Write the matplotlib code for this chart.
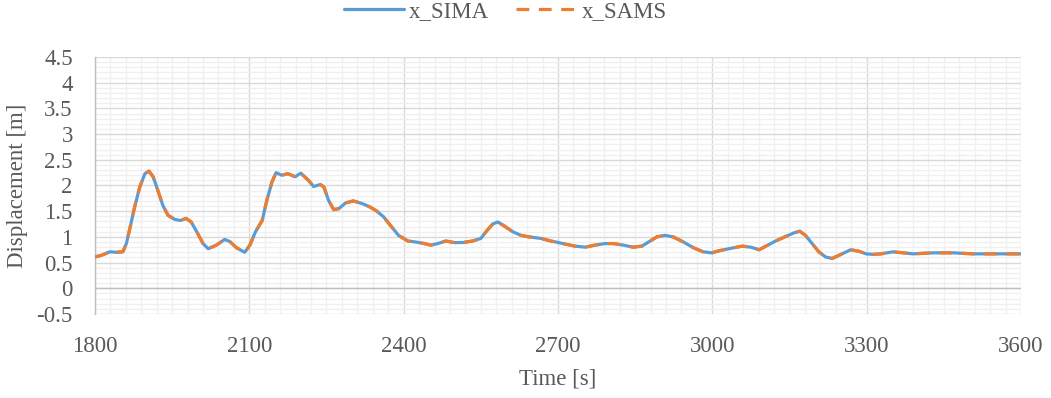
import matplotlib
matplotlib.use("Agg")
import matplotlib.pyplot as plt
from matplotlib.ticker import MultipleLocator

# Time [s] and displacement [m] samples
time_s = [1800, 1812, 1829, 1841, 1854, 1861, 1867, 1877, 1887, 1897, 1905, 1913, 1922,
          1932, 1942, 1955, 1966, 1977, 1987, 2000, 2010, 2020, 2036, 2052, 2062, 2075,
          2091, 2101, 2112, 2125, 2134, 2144, 2152, 2163, 2175, 2189, 2200, 2215, 2225,
          2238, 2245, 2254, 2264, 2274, 2287, 2302, 2319, 2335, 2348, 2361, 2377, 2390,
          2408, 2424, 2440, 2453, 2466, 2482, 2498, 2515, 2534, 2550, 2560, 2573, 2583,
          2596, 2612, 2628, 2644, 2667, 2686, 2701, 2714, 2733, 2753, 2772, 2791, 2808,
          2827, 2846, 2863, 2876, 2892, 2908, 2924, 2944, 2963, 2982, 2999, 3013, 3032,
          3058, 3075, 3091, 3104, 3123, 3143, 3159, 3170, 3181, 3194, 3207, 3220, 3233,
          3250, 3269, 3285, 3299, 3312, 3328, 3351, 3371, 3390, 3429, 3468, 3507, 3552,
          3600]
x_sima = [0.61, 0.64, 0.71, 0.70, 0.71, 0.87, 1.13, 1.58, 1.97, 2.23, 2.28, 2.17, 1.91,
          1.61, 1.42, 1.34, 1.32, 1.36, 1.29, 1.06, 0.87, 0.77, 0.84, 0.95, 0.91, 0.79,
          0.70, 0.84, 1.10, 1.32, 1.71, 2.07, 2.25, 2.20, 2.23, 2.17, 2.24, 2.10, 1.98,
          2.02, 1.97, 1.71, 1.53, 1.55, 1.66, 1.70, 1.65, 1.58, 1.50, 1.39, 1.19, 1.03,
          0.92, 0.90, 0.87, 0.84, 0.87, 0.92, 0.89, 0.89, 0.92, 0.97, 1.10, 1.25, 1.29,
          1.21, 1.10, 1.03, 1.00, 0.97, 0.92, 0.89, 0.86, 0.82, 0.80, 0.84, 0.87, 0.87,
          0.84, 0.80, 0.82, 0.90, 1.00, 1.03, 1.00, 0.90, 0.79, 0.71, 0.69, 0.73, 0.77,
          0.82, 0.80, 0.75, 0.82, 0.92, 1.01, 1.08, 1.11, 1.03, 0.87, 0.71, 0.61, 0.58,
          0.66, 0.75, 0.72, 0.67, 0.66, 0.67, 0.71, 0.69, 0.67, 0.69, 0.69, 0.67, 0.67,
          0.67]
x_sams = list(x_sima)

series_labels = ["x_SIMA", "x_SAMS"]
x_ticks = [1800, 2100, 2400, 2700, 3000, 3300, 3600]
y_ticks = [-0.5, 0, 0.5, 1, 1.5, 2, 2.5, 3, 3.5, 4, 4.5]

text_color = "#595959"
fs = 16.5
plt.rcParams["font.family"] = ["Liberation Serif"]

fig = plt.figure(figsize=(10.51, 3.98), dpi=100)
ax = fig.add_axes([95 / 1051, 1 - 314 / 398, 926 / 1051, 257 / 398])

ax.plot(time_s, x_sima, color="#5B9BD5", lw=2.3, label=series_labels[0],
        solid_capstyle="round", solid_joinstyle="round", zorder=3)
ax.plot(time_s, x_sams, color="#ED7D31", lw=2.3, label=series_labels[1],
        dashes=(4, 3), dash_capstyle="butt", dash_joinstyle="round", zorder=4)

ax.set_xlim(1800, 3600)
ax.set_ylim(-0.5, 4.5)
ax.set_xticks(x_ticks)
ax.set_yticks(y_ticks)
ax.set_yticklabels([f"{v:g}" for v in y_ticks])
ax.xaxis.set_minor_locator(MultipleLocator(30))
ax.yaxis.set_minor_locator(MultipleLocator(0.1))

ax.grid(which="minor", color="#F0F0F0", lw=1.0, zorder=0)
ax.grid(which="major", color="#D9D9D9", lw=1.0, zorder=1)
ax.set_axisbelow(True)

for side in ["top", "right", "bottom"]:
    ax.spines[side].set_visible(False)
ax.spines["left"].set_color("#BFBFBF")
ax.spines["left"].set_linewidth(1.0)
ax.axhline(0, color="#BFBFBF", lw=1.0, zorder=2)

ax.tick_params(which="both", length=0)
ax.tick_params(axis="x", pad=16, labelsize=fs, colors=text_color)
ax.tick_params(axis="y", pad=16, labelsize=fs, colors=text_color)

ax.set_xlabel("Time [s]", fontsize=fs, color=text_color, va="center")
ax.set_ylabel("Displacement [m]", fontsize=fs, color=text_color, va="center")
ax.xaxis.set_label_coords(0.5, (314 - 379) / 257)
ax.yaxis.set_label_coords((18 - 95) / 926, 0.5)

leg = fig.legend(loc="center", bbox_to_anchor=(505 / 1051, 1 - 12 / 398), ncol=2,
                 frameon=False, fontsize=fs, handlelength=2.62, columnspacing=1.2,
                 handletextpad=0.22)
for t in leg.get_texts():
    t.set_color(text_color)

fig.savefig("out.png", dpi=100)
